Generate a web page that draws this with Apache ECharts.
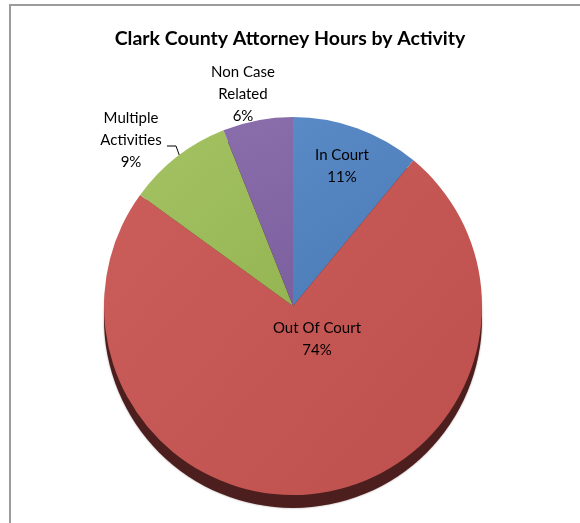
<!DOCTYPE html>
<html>
<head>
<meta charset="utf-8">
<script src="https://cdn.jsdelivr.net/npm/echarts@6/dist/echarts.min.js"></script>
<style>
  html, body { margin: 0; padding: 0; background: #ffffff; }
  #chart { width: 580px; height: 523px; }
</style>
</head>
<body>
<div id="chart"></div>
<script>
// Share of attorney hours by activity (percent)
const categories = ['In Court', 'Out Of Court', 'Multiple Activities', 'Non Case Related'];
const values = [11, 74, 9, 6];
// Wrapped label text for each category
const labelNames = ['In Court', 'Out Of Court', 'Multiple\nActivities', 'Non Case\nRelated'];

const faceColors = [
  ['#5A8AC6', '#4A7BB7'],
  ['#CB5E5B', '#BD4F4C'],
  ['#A4C262', '#95B553'],
  ['#8A6DAB', '#7C5F9E']
];

// Label anchor for each slice (label block centre)
const labelSpots = [
  [342, 166],
  [317, 339],
  [131, 140],
  [243, 94]
];

const FONT = 'Lato, "Open Sans", sans-serif';

const chart = echarts.init(document.getElementById('chart'), null, { renderer: 'canvas' });

const pieData = categories.map((name, i) => ({
  name: name,
  value: values[i],
  itemStyle: {
    color: new echarts.graphic.LinearGradient(0, 0, 1, 1, [
      { offset: 0, color: faceColors[i][0] },
      { offset: 1, color: faceColors[i][1] }
    ])
  },
  labelLine: { show: i === 2 }
}));

chart.setOption({
  animation: false,
  backgroundColor: '#ffffff',
  title: {
    text: 'Clark County Attorney Hours by Activity',
    left: 'center',
    top: 24,
    textStyle: { fontFamily: FONT, fontWeight: 'bold', fontSize: 19.5, color: '#000000' }
  },
  graphic: [{
    type: 'rect',
    silent: true,
    z: -10,
    shape: { x: 10, y: 5, width: 700, height: 700 },
    style: { fill: 'none', stroke: '#9c9c9c', lineWidth: 2 }
  }],
  series: [
    {
      // darker rim beneath the pie face
      type: 'pie',
      silent: true,
      center: [293, 319],
      radius: 189,
      z: 1,
      label: { show: false },
      labelLine: { show: false },
      itemStyle: { color: '#4C1E1E', shadowBlur: 2, shadowColor: 'rgba(76,30,30,0.5)' },
      data: [{ name: 'rim', value: 1 }]
    },
    {
      type: 'pie',
      center: [293, 306],
      radius: 189,
      startAngle: 90,
      clockwise: true,
      z: 2,
      data: pieData,
      label: {
        show: true,
        fontFamily: FONT,
        fontSize: 15,
        lineHeight: 22,
        color: '#000000',
        align: 'center',
        formatter: p => labelNames[p.dataIndex] + '\n' + p.value + '%'
      },
      labelLine: {
        show: false,
        lineStyle: { color: '#000000', width: 1 }
      },
      labelLayout: p => {
        const s = labelSpots[p.dataIndex];
        const out = { x: s[0], y: s[1], align: 'center', verticalAlign: 'middle' };
        if (p.dataIndex === 2) {
          out.labelLinePoints = [[167, 146], [176, 146], [180, 157]];
        }
        return out;
      }
    }
  ]
});
</script>
</body>
</html>
